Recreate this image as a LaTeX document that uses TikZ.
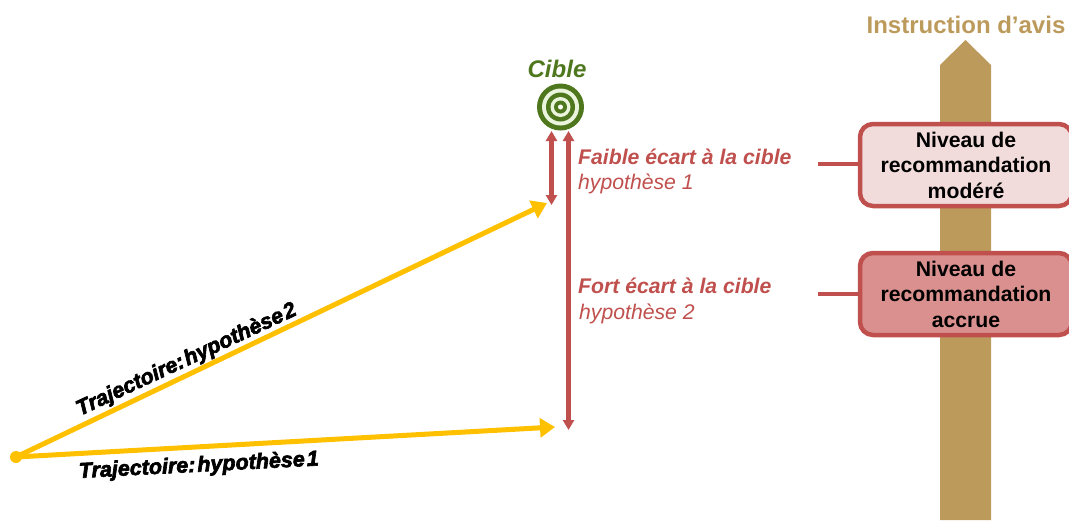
\documentclass[tikz,border=0pt]{standalone}
\usepackage{fontspec}
\setmainfont{Liberation Sans}
\newfontfamily\trajfont[FakeBold=3]{Liberation Sans}
\usetikzlibrary{arrows.meta}
\definecolor{goldline}{RGB}{255,192,0}
\definecolor{redline}{RGB}{192,80,77}
\definecolor{postbrown}{RGB}{188,154,92}
\definecolor{targetgreen}{RGB}{79,119,30}
\definecolor{targetpale}{RGB}{235,245,222}
\definecolor{boxlight}{RGB}{242,220,219}
\definecolor{boxdark}{RGB}{217,144,142}
\tikzset{
  trajectory/.style={draw=goldline,line width=5pt,-{Triangle[length=15pt,width=19pt]}},
  gap/.style={draw=redline,line width=4.5pt,{Triangle[length=10pt,width=11pt]}-{Triangle[length=10pt,width=11pt]}},
  levelbox/.style={draw=redline,line width=4.5pt,rounded corners=13pt,minimum width=212pt,minimum height=82pt,
    align=center,inner sep=0pt,font=\fontsize{21.2}{25.5}\selectfont\bfseries},
  gaplabel/.style={text=redline,anchor=base west,inner sep=0pt,font=\fontsize{21.2}{24}\selectfont\bfseries\itshape},
  hyplabel/.style={text=redline,anchor=base west,inner sep=0pt,font=\fontsize{21.2}{24}\selectfont\itshape},
  trajlabel/.style={anchor=base west,inner sep=0pt,font=\fontsize{21.5}{24}\selectfont\trajfont\bfseries\itshape}
}
\begin{document}
\begin{tikzpicture}[x=1pt,y=-1pt]
  \useasboundingbox (0,0) rectangle (1069,520);
  % post
  \fill[postbrown] (940,520) -- (940,65) -- (965.5,40) -- (991,65) -- (991,520) -- cycle;
  \node[at={(966,25)},text=postbrown,font=\fontsize{24}{28}\selectfont\bfseries] (avis) {Instruction d’avis};
  % target
  \node[at={(557,69)},text=targetgreen,font=\fontsize{24}{28}\selectfont\bfseries\itshape] (cible) {Cible};
  \fill[targetgreen] (560.5,107) circle (23.5);
  \fill[targetpale] (560.5,107) circle (18.5);
  \fill[targetgreen] (560.5,107) circle (14.5);
  \fill[targetpale] (560.5,107) circle (10);
  \fill[targetgreen] (560.5,107) circle (6.5);
  \fill[white] (560.5,107) circle (2.5);
  %corners
  \coordinate (start) at (16,457);
  \coordinate (tipone) at (555,427);
  \coordinate (tiptwo) at (547,203);
  \coordinate (smalltop) at (551.5,131);
  \coordinate (smallend) at (551.5,205);
  \coordinate (bigtop) at (568.5,131);
  \coordinate (bigend) at (568.5,430);
  \coordinate (linkone) at (818,164);
  \coordinate (linktwo) at (818,293.5);
  % boxes
  \node[levelbox,fill=boxlight,at={(966,165)}] (modere) {Niveau de\\recommandation\\modéré};
  \node[levelbox,fill=boxdark,at={(966,294)}] (accrue) {Niveau de\\recommandation\\accrue};
  \draw[redline,line width=4pt] (linkone) -- (linkone-|modere.west);
  \draw[redline,line width=4pt] (linktwo) -- (linktwo-|accrue.west);
  % trajectories
  \fill[goldline] (start) circle (6);
  \draw[trajectory] (start) -- (tipone);
  \draw[trajectory] (start) -- (tiptwo);
  \draw[gap] (smalltop) -- (smallend);
  \draw[gap] (bigtop) -- (bigend);
  %labels
  \node[gaplabel,at={(578,164)}] (faible) {Faible écart à la cible};
  \node[hyplabel,at={(578,189)}] (hypun) {hypothèse 1};
  \node[gaplabel,at={(578,293)}] (fort) {Fort écart à la cible};
  \node[hyplabel,at={(579,319)}] (hypdeux) {hypothèse 2};
  \node[trajlabel,rotate=25,at={(80,416)}] (trajdeux) {Trajectoire:\hspace{2pt}hypothèse\hspace{2pt}2};
  \node[trajlabel,rotate=3,at={(79,478)}] (trajun) {Trajectoire:\hspace{2pt}hypothèse\hspace{2pt}1};
\end{tikzpicture}
\end{document}
